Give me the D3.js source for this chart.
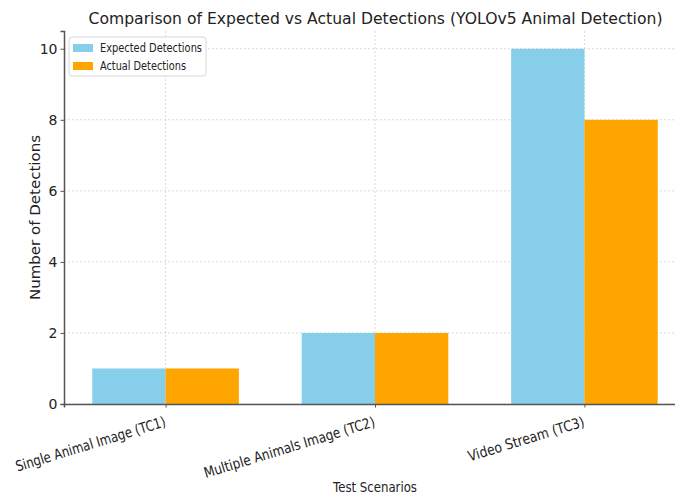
<!DOCTYPE html>
<html>
<head>
<meta charset="utf-8">
<script src="https://cdn.jsdelivr.net/npm/d3@7"></script>
<style>
  body { margin: 0; background: #fff; }
  svg { display: block; font-family: "DejaVu Sans", sans-serif; }
</style>
</head>
<body>
<div id="chart"></div>
<script>
// data
var scenarios = ["Single Animal Image (TC1)", "Multiple Animals Image (TC2)", "Video Stream (TC3)"];
var expected = [1, 2, 10];
var actual = [1, 2, 8];
var yTicks = [0, 2, 4, 6, 8, 10];
var seriesNames = ["Expected Detections", "Actual Detections"];
var colors = ["#87CEEB", "#FFA500"];

var W = 675, H = 498;
var plotL = 64, plotR = 686, plotT = 31, plotB = 404;
var barW = 0.35;

var svg = d3.select("#chart").append("svg")
  .attr("width", W).attr("height", H);

var x = d3.scaleLinear().domain([-0.485, 2.485]).range([plotL, plotR]);
var y = d3.scaleLinear().domain([0, 10.5]).range([plotB, plotT]);

// grid
var grid = svg.append("g");
grid.selectAll("line.h").data(yTicks).enter().append("line")
  .attr("x1", plotL).attr("x2", plotR)
  .attr("y1", function(d) { return y(d); }).attr("y2", function(d) { return y(d); })
  .attr("stroke", "#cfcfcf").attr("stroke-width", 0.8).attr("stroke-dasharray", "2,2");
grid.selectAll("line.v").data(scenarios).enter().append("line")
  .attr("x1", function(d, i) { return x(i); }).attr("x2", function(d, i) { return x(i); })
  .attr("y1", plotT).attr("y2", plotB)
  .attr("stroke", "#cfcfcf").attr("stroke-width", 0.8).attr("stroke-dasharray", "2,2");

// bars
svg.append("g").selectAll("rect").data(expected).enter().append("rect")
  .attr("x", function(d, i) { return x(i - barW); })
  .attr("y", function(d) { return y(d); })
  .attr("width", x(barW) - x(0))
  .attr("height", function(d) { return y(0) - y(d); })
  .attr("fill", colors[0]);
svg.append("g").selectAll("rect").data(actual).enter().append("rect")
  .attr("x", function(d, i) { return x(i); })
  .attr("y", function(d) { return y(d); })
  .attr("width", x(barW) - x(0))
  .attr("height", function(d) { return y(0) - y(d); })
  .attr("fill", colors[1]);

// y axis
var yAxis = svg.append("g")
  .attr("transform", "translate(" + plotL + ",0)")
  .call(d3.axisLeft(y).tickValues(yTicks).tickSize(3.5).tickPadding(3));
yAxis.select(".domain").attr("stroke", "#555").attr("stroke-width", 1.5);
yAxis.selectAll(".tick line").attr("stroke", "#555");
yAxis.selectAll(".tick text").attr("font-size", 14).attr("fill", "#222")
  .attr("font-family", "DejaVu Sans");

// x axis
var xAxis = svg.append("g")
  .attr("transform", "translate(0," + plotB + ")")
  .call(d3.axisBottom(x).tickValues([0, 1, 2]).tickSize(3.5).tickFormat(""));
xAxis.select(".domain").attr("stroke", "#555").attr("stroke-width", 1.5);
xAxis.selectAll(".tick line").attr("stroke", "#555");

// rotated x labels
var labelLen = [156, 178, 121];
svg.append("g").selectAll("text").data(scenarios).enter().append("text")
  .attr("transform", function(d, i) { return "translate(" + (x(i) + 1) + "," + (plotB + 22) + ") rotate(-17)"; })
  .attr("text-anchor", "end")
  .attr("font-size", 14.5).attr("fill", "#222")
  .attr("textLength", function(d, i) { return labelLen[i]; })
  .attr("lengthAdjust", "spacingAndGlyphs")
  .text(function(d) { return d; });

// titles
svg.append("text")
  .attr("x", 375.5).attr("y", 24)
  .attr("text-anchor", "middle")
  .attr("font-size", 15.5).attr("fill", "#222")
  .attr("textLength", 574).attr("lengthAdjust", "spacingAndGlyphs")
  .text("Comparison of Expected vs Actual Detections (YOLOv5 Animal Detection)");

svg.append("text")
  .attr("x", 375).attr("y", 492)
  .attr("text-anchor", "middle")
  .attr("font-size", 14).attr("fill", "#222")
  .attr("textLength", 84).attr("lengthAdjust", "spacingAndGlyphs")
  .text("Test Scenarios");

svg.append("text")
  .attr("transform", "translate(40," + ((plotT + plotB) / 2) + ") rotate(-90)")
  .attr("text-anchor", "middle")
  .attr("font-size", 14).attr("fill", "#222")
  .attr("textLength", 165).attr("lengthAdjust", "spacingAndGlyphs")
  .text("Number of Detections");

// legend
var legend = svg.append("g").attr("transform", "translate(69,37)");
legend.append("rect")
  .attr("width", 137).attr("height", 39).attr("rx", 3)
  .attr("fill", "#fff").attr("fill-opacity", 0.85)
  .attr("stroke", "#d8d8d8");
var items = legend.selectAll("g.item").data(seriesNames).enter().append("g")
  .attr("transform", function(d, i) { return "translate(4," + (7 + i * 18) + ")"; });
items.append("rect")
  .attr("width", 20).attr("height", 8)
  .attr("fill", function(d, i) { return colors[i]; });
items.append("text")
  .attr("x", 27).attr("y", 8)
  .attr("font-size", 11.5).attr("fill", "#222")
  .attr("textLength", function(d, i) { return i === 0 ? 102 : 86; })
  .attr("lengthAdjust", "spacingAndGlyphs")
  .text(function(d) { return d; });
</script>
</body>
</html>
